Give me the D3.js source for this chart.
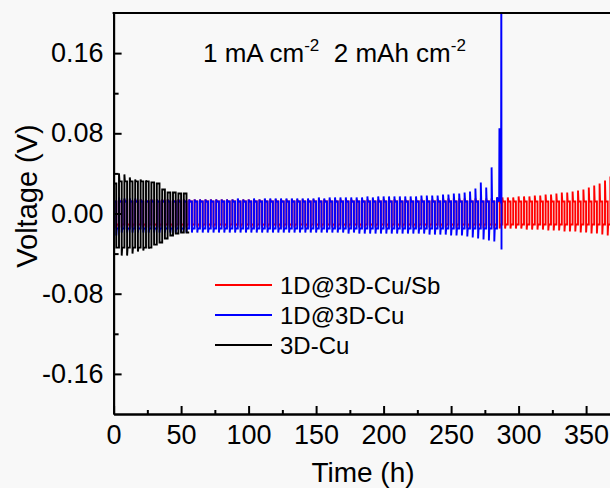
<!DOCTYPE html>
<html>
<head>
<meta charset="utf-8">
<script src="https://cdn.jsdelivr.net/npm/d3@7"></script>
<style>
  html, body { margin: 0; padding: 0; background: #f8f8f8; }
  svg { display: block; }
  text { font-family: Arial, "Liberation Sans", sans-serif; fill: #000; }
</style>
</head>
<body>
<svg id="chart" width="610" height="488"></svg>
<script>
// Galvanostatic cycling of symmetric cells, 4 h per cycle (2 h each half)
const cycleHours = 4;

const timeTicks = [0, 50, 100, 150, 200, 250, 300, 350];
const timeMinorTicks = [25, 75, 125, 175, 225, 275, 325, 375];
const voltTicks = [-0.16, -0.08, 0.00, 0.08, 0.16];
const voltMinorTicks = [-0.12, -0.04, 0.04, 0.12];

const seriesNames = ["1D@3D-Cu/Sb", "1D@3D-Cu", "3D-Cu"];
const seriesColors = ["#ff0000", "#0000ff", "#000000"];

// Peak voltage (V) of each cycle: charge half (Hi) and discharge half (Lo)
const redHi = [
  0.016, 0.014, 0.014, 0.014, 0.014, 0.014, 0.014, 0.014, 0.014, 0.014,
  0.014, 0.014, 0.014, 0.014, 0.014, 0.014, 0.014, 0.014, 0.014, 0.014,
  0.014, 0.014, 0.014, 0.014, 0.014, 0.014, 0.014, 0.014, 0.014, 0.014,
  0.014, 0.014, 0.014, 0.014, 0.014, 0.014, 0.014, 0.014, 0.014, 0.014,
  0.014, 0.014, 0.014, 0.014, 0.014, 0.014, 0.014, 0.014, 0.014, 0.014,
  0.014, 0.014, 0.014, 0.014, 0.014, 0.014, 0.014, 0.014, 0.014, 0.014,
  0.014, 0.015, 0.015, 0.015, 0.015, 0.015, 0.015, 0.015, 0.015, 0.015,
  0.015, 0.016,
  0.016, 0.016, 0.016, 0.017, 0.017, 0.017, 0.018, 0.018, 0.019, 0.019,
  0.020, 0.021, 0.021, 0.022, 0.023, 0.024, 0.026, 0.028, 0.030, 0.033,
  0.037
];
const redLo = [
  -0.015, -0.014, -0.014, -0.014, -0.014, -0.014, -0.014, -0.014, -0.014, -0.014,
  -0.014, -0.014, -0.014, -0.014, -0.014, -0.014, -0.014, -0.014, -0.014, -0.014,
  -0.014, -0.014, -0.014, -0.014, -0.014, -0.014, -0.014, -0.014, -0.014, -0.014,
  -0.014, -0.014, -0.014, -0.014, -0.014, -0.014, -0.014, -0.014, -0.014, -0.014,
  -0.014, -0.014, -0.014, -0.014, -0.014, -0.014, -0.014, -0.014, -0.014, -0.014,
  -0.014, -0.014, -0.014, -0.014, -0.014, -0.014, -0.014, -0.014, -0.014, -0.014,
  -0.014, -0.014, -0.014, -0.015, -0.015, -0.015, -0.015, -0.015, -0.015, -0.015,
  -0.015, -0.015,
  -0.015, -0.015, -0.015, -0.015, -0.016, -0.016, -0.016, -0.016, -0.017, -0.017,
  -0.017, -0.018, -0.018, -0.018, -0.019, -0.019, -0.020, -0.020, -0.021, -0.022,
  -0.022
];

const blueHi = [
  0.024, 0.016, 0.015, 0.015, 0.015, 0.014, 0.014, 0.014, 0.014, 0.014,
  0.014, 0.014, 0.014, 0.014, 0.014, 0.014, 0.014, 0.014, 0.014, 0.014,
  0.014, 0.014, 0.014, 0.015, 0.014, 0.014, 0.015, 0.014, 0.015, 0.015,
  0.015, 0.015, 0.015, 0.015, 0.015, 0.015, 0.015, 0.015, 0.016, 0.015,
  0.016, 0.016, 0.016, 0.016, 0.016, 0.016, 0.016, 0.017, 0.016, 0.017,
  0.017, 0.017, 0.017, 0.017, 0.017, 0.017, 0.017, 0.018, 0.018, 0.018,
  0.018, 0.019, 0.019, 0.020, 0.020, 0.021, 0.022, 0.025, 0.031, 0.026,
  0.046
];
const blueLo = [
  -0.022, -0.019, -0.019, -0.019, -0.019, -0.019, -0.019, -0.019, -0.019, -0.019,
  -0.019, -0.019, -0.019, -0.019, -0.019, -0.019, -0.019, -0.019, -0.019, -0.019,
  -0.019, -0.019, -0.019, -0.019, -0.019, -0.019, -0.019, -0.019, -0.019, -0.019,
  -0.019, -0.019, -0.019, -0.019, -0.019, -0.019, -0.019, -0.019, -0.019, -0.019,
  -0.019, -0.019, -0.019, -0.020, -0.019, -0.020, -0.020, -0.020, -0.020, -0.020,
  -0.020, -0.020, -0.020, -0.020, -0.020, -0.020, -0.020, -0.020, -0.021, -0.021,
  -0.021, -0.021, -0.022, -0.022, -0.022, -0.023, -0.024, -0.025, -0.026, -0.027,
  -0.028
];
// Short-circuit / failure event of the 1D@3D-Cu cell
const blueFailTimes = [284.0, 285.6, 285.8, 287.0, 287.2, 287.35];
const blueFailVolts = [0.016, 0.012, 0.085, 0.010, 0.25, -0.036];

const blackHi = [0.030, 0.040, 0.039, 0.036, 0.034, 0.034, 0.033, 0.031, 0.030, 0.024, 0.021, 0.021, 0.020, 0.020];
const blackLo = [-0.034, -0.042, -0.042, -0.040, -0.038, -0.037, -0.035, -0.031, -0.029, -0.025, -0.022, -0.020, -0.019, -0.019];

// Plateau level reached after the initial overpotential spike of each half cycle
const plateauCaps = { red: [0.012, -0.011], blue: [0.012, -0.015], black: [0.032, -0.034] };

const W = 610, H = 488;
const plot = { left: 113.6, top: 13, bottom: 414 };

const x = d3.scaleLinear().domain([0, 380]).range([plot.left, plot.left + 380 * 1.35]);
const y = d3.scaleLinear().domain([-0.2, 0.2]).range([plot.bottom, plot.top]);

const svg = d3.select("#chart");
svg.append("rect").attr("width", W).attr("height", H).attr("fill", "#f8f8f8");

svg.append("defs").append("clipPath").attr("id", "plotClip")
  .append("rect")
  .attr("x", plot.left).attr("y", plot.top)
  .attr("width", W - plot.left).attr("height", plot.bottom - plot.top);

// Build a square-wave trace from per-cycle peaks
function cycleTrace(hi, lo, caps) {
  const pts = [];
  for (let i = 0; i < hi.length; i++) {
    const t0 = i * cycleHours;
    const pHi = Math.min(hi[i], caps[0]);
    const pLo = Math.max(lo[i], caps[1]);
    pts.push([t0, hi[i]], [t0 + 0.35, pHi], [t0 + cycleHours / 2, pHi],
             [t0 + cycleHours / 2, lo[i]], [t0 + cycleHours / 2 + 0.35, pLo], [t0 + cycleHours, pLo]);
  }
  return pts;
}

const redPts = cycleTrace(redHi, redLo, plateauCaps.red);
const bluePts = cycleTrace(blueHi, blueLo, plateauCaps.blue)
  .concat(blueFailTimes.map((t, i) => [t, blueFailVolts[i]]));
const blackPts = cycleTrace(blackHi, blackLo, plateauCaps.black);

const line = d3.line().x(d => x(d[0])).y(d => y(d[1]));

const dataG = svg.append("g").attr("clip-path", "url(#plotClip)");
[[redPts, seriesColors[0]], [bluePts, seriesColors[1]], [blackPts, seriesColors[2]]]
  .forEach(([pts, c]) => {
    dataG.append("path").datum(pts)
      .attr("d", line)
      .attr("fill", "none")
      .attr("stroke", c)
      .attr("stroke-width", 1.9)
      .attr("stroke-linejoin", "miter");
  });

// Axes (ticks pointing inward)
const fmtVolt = d => d3.format(".2f")(d).replace("\u2212", "-");
const xAxis = d3.axisBottom(x).tickValues(timeTicks).tickFormat(d3.format("d"))
  .tickSizeInner(-8).tickSizeOuter(0).tickPadding(11);
const xMinor = d3.axisBottom(x).tickValues(timeMinorTicks).tickFormat("")
  .tickSizeInner(-4).tickSizeOuter(0);
const yAxis = d3.axisLeft(y).tickValues(voltTicks).tickFormat(fmtVolt)
  .tickSizeInner(-8).tickSizeOuter(0).tickPadding(10);
const yMinor = d3.axisLeft(y).tickValues(voltMinorTicks).tickFormat("")
  .tickSizeInner(-5).tickSizeOuter(0);

function styleAxis(g) {
  g.select(".domain").attr("stroke", "#000").attr("stroke-width", 2);
  g.selectAll(".tick line").attr("stroke", "#000").attr("stroke-width", 2);
  g.selectAll(".tick text").attr("font-family", "Arial, 'Liberation Sans', sans-serif")
    .attr("font-size", 27).attr("fill", "#000");
}

svg.append("g").attr("transform", `translate(0,${plot.bottom})`).call(xMinor).call(styleAxis);
svg.append("g").attr("transform", `translate(0,${plot.bottom})`).call(xAxis).call(styleAxis);
svg.append("g").attr("transform", `translate(${plot.left},0)`).call(yMinor).call(styleAxis);
svg.append("g").attr("transform", `translate(${plot.left},0)`).call(yAxis).call(styleAxis);

// top frame line
svg.append("line")
  .attr("x1", plot.left - 1).attr("x2", W)
  .attr("y1", plot.top).attr("y2", plot.top)
  .attr("stroke", "#000").attr("stroke-width", 2);

// Axis titles
svg.append("text")
  .attr("x", 363).attr("y", 482)
  .attr("text-anchor", "middle")
  .attr("font-size", 28)
  .text("Time (h)");

svg.append("text")
  .attr("transform", `translate(37,196) rotate(-90)`)
  .attr("text-anchor", "middle")
  .attr("font-size", 29)
  .text("Voltage (V)");

// Test condition annotation
const cond = svg.append("text").attr("x", 203).attr("y", 62).attr("font-size", 26);
cond.append("tspan").text("1 mA cm");
cond.append("tspan").attr("font-size", 17).attr("dy", -11).text("-2");
cond.append("tspan").attr("dy", 11).attr("font-size", 26).text("\u00a0 2 mAh cm");
cond.append("tspan").attr("font-size", 17).attr("dy", -11).text("-2");

// Legend
const legend = svg.append("g");
seriesNames.forEach((name, i) => {
  const base = 294 + i * 30;
  legend.append("line")
    .attr("x1", 215).attr("x2", 272)
    .attr("y1", base - 9).attr("y2", base - 9)
    .attr("stroke", seriesColors[i]).attr("stroke-width", 2);
  legend.append("text")
    .attr("x", 280).attr("y", base)
    .attr("font-size", 24)
    .text(name);
});
</script>
</body>
</html>
